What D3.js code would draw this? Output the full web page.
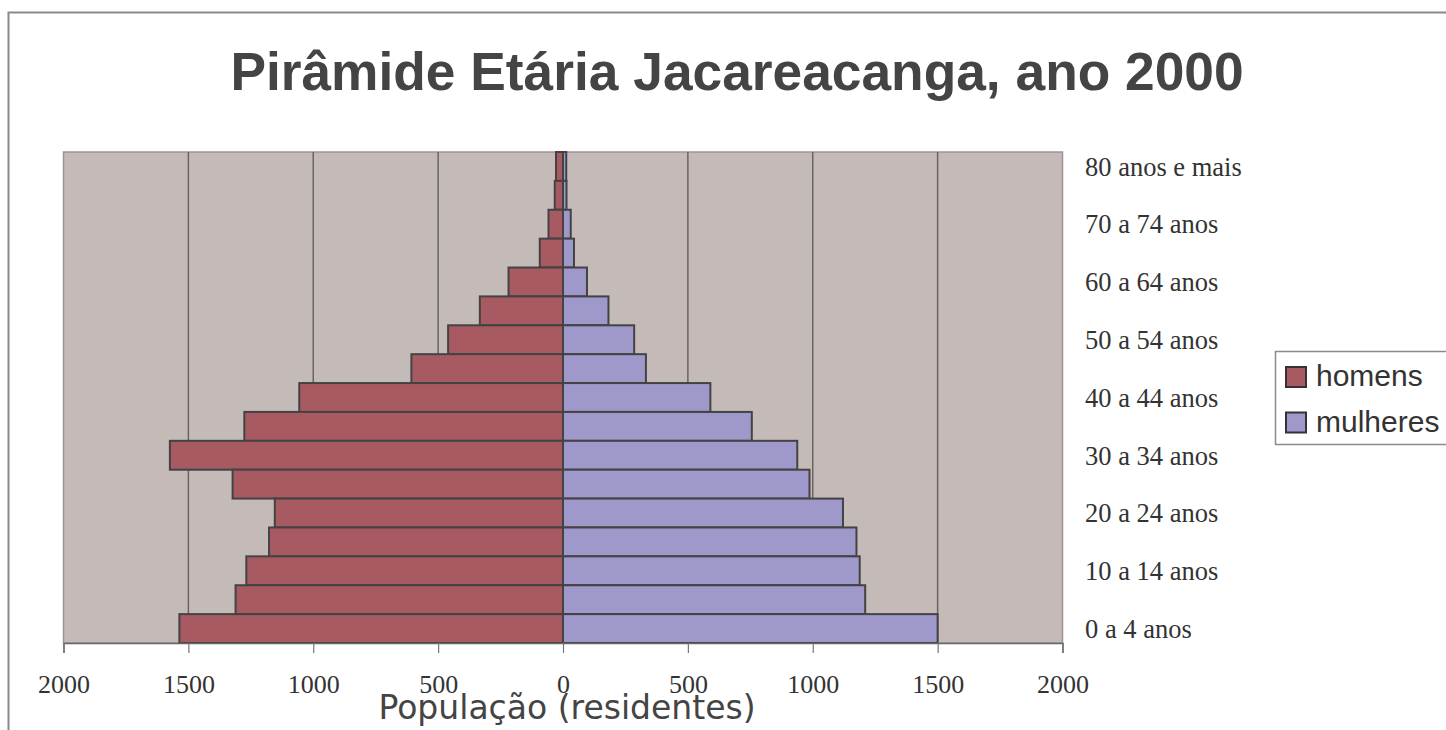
<!DOCTYPE html>
<html lang="pt">
<head>
    <meta charset="UTF-8">
    <title>Pirâmide Etária Jacareacanga</title>
    <script src="https://d3js.org/d3.v7.min.js"></script>
    <style>
        body { margin: 0; background: #fff; }
    </style>
</head>
<body>
<div id="chart"></div>
<script>
    // age groups, top to bottom
    let ages = ['80 anos e mais', '75 a 79 anos', '70 a 74 anos', '65 a 69 anos', '60 a 64 anos',
        '55 a 59 anos', '50 a 54 anos', '45 a 49 anos', '40 a 44 anos', '35 a 39 anos',
        '30 a 34 anos', '25 a 29 anos', '20 a 24 anos', '15 a 19 anos', '10 a 14 anos',
        '5 a 9 anos', '0 a 4 anos'];
    let homens = [28, 33, 58, 93, 218, 333, 460, 607, 1056, 1276, 1574, 1323, 1154, 1177, 1268, 1311, 1536];
    let mulheres = [13, 14, 31, 44, 96, 182, 285, 332, 590, 756, 938, 987, 1121, 1175, 1188, 1210, 1500];
    let xTicks = [-2000, -1500, -1000, -500, 0, 500, 1000, 1500, 2000];
    let gridTicks = [-1500, -1000, -500, 500, 1000, 1500];
    let series = ['homens', 'mulheres'];

    let W = 1446, H = 730;
    let plotLeft = 63.5, plotRight = 1062.5, plotTop = 152, plotBottom = 643;

    let svg = d3.select('#chart')
        .append('svg')
        .attr('width', W)
        .attr('height', H);

    // outer frame
    svg.append('rect')
        .attr('x', 8.5).attr('y', 12.5)
        .attr('width', 1500).attr('height', 800)
        .attr('fill', 'none')
        .attr('stroke', '#8a8a8a')
        .attr('stroke-width', 2);

    svg.append('text')
        .attr('x', 737).attr('y', 90)
        .attr('text-anchor', 'middle')
        .style('font-family', '"Liberation Sans", Arial, sans-serif')
        .style('font-weight', 'bold')
        .style('font-size', '53.3px')
        .attr('fill', '#444')
        .text('Pirâmide Etária Jacareacanga, ano 2000');

    let x = d3.scaleLinear().domain([-2000, 2000]).range([plotLeft, plotRight]);
    let y = d3.scaleBand().domain(ages).range([plotTop, plotBottom]).padding(0);
    let color = d3.scaleOrdinal().domain(series).range(['#a85a63', '#9e98cb']);

    // plot background
    svg.append('rect')
        .attr('x', plotLeft).attr('y', plotTop)
        .attr('width', plotRight - plotLeft).attr('height', plotBottom - plotTop)
        .attr('fill', '#c4bab8')
        .attr('stroke', '#9c9494')
        .attr('stroke-width', 1.5);

    // gridlines
    svg.append('g')
        .selectAll('line')
        .data(gridTicks)
        .enter()
        .append('line')
        .attr('x1', d => x(d)).attr('x2', d => x(d))
        .attr('y1', plotTop).attr('y2', plotBottom)
        .attr('stroke', '#6a6464')
        .attr('stroke-width', 1.5);

    // bars
    let rows = ages.map((a, i) => ({age: a, h: homens[i], m: mulheres[i]}));
    let bars = svg.append('g');
    bars.selectAll('.h')
        .data(rows)
        .enter().append('rect')
        .attr('class', 'h')
        .attr('x', d => x(-d.h))
        .attr('y', d => y(d.age))
        .attr('width', d => x(0) - x(-d.h))
        .attr('height', y.bandwidth())
        .attr('fill', color('homens'))
        .attr('stroke', '#434343')
        .attr('stroke-width', 2);
    bars.selectAll('.m')
        .data(rows)
        .enter().append('rect')
        .attr('class', 'm')
        .attr('x', x(0))
        .attr('y', d => y(d.age))
        .attr('width', d => x(d.m) - x(0))
        .attr('height', y.bandwidth())
        .attr('fill', color('mulheres'))
        .attr('stroke', '#434343')
        .attr('stroke-width', 2);

    // x axis
    let xAxis = svg.append('g')
        .attr('transform', 'translate(0,' + plotBottom + ')')
        .call(d3.axisBottom(x).tickValues(xTicks).tickSize(10).tickPadding(22)
            .tickFormat(d => Math.abs(d)));
    xAxis.select('.domain').attr('stroke', '#666').attr('stroke-width', 1.5);
    xAxis.selectAll('.tick line').attr('stroke', '#777').attr('stroke-width', 1.2);
    xAxis.selectAll('.tick text')
        .style('font-family', '"Liberation Serif", "Times New Roman", serif')
        .style('font-size', '26px')
        .attr('fill', '#333');

    // age labels, every other row
    svg.append('g')
        .selectAll('text')
        .data(ages.filter((a, i) => i % 2 === 0))
        .enter().append('text')
        .attr('x', 1085)
        .attr('y', d => y(d) + y.bandwidth() / 2)
        .attr('dy', '0.35em')
        .style('font-family', '"Liberation Serif", "Times New Roman", serif')
        .style('font-size', '26.5px')
        .attr('fill', '#333')
        .text(d => d);

    svg.append('text')
        .attr('x', 567).attr('y', 719)
        .attr('text-anchor', 'middle')
        .style('font-family', '"DejaVu Sans", Verdana, sans-serif')
        .style('font-size', '33px')
        .attr('fill', '#444')
        .text('População (residentes)');

    // legend
    let legend = svg.append('g');
    legend.append('rect')
        .attr('x', 1275.5).attr('y', 351.5)
        .attr('width', 200).attr('height', 93)
        .attr('fill', '#fff')
        .attr('stroke', '#8a8a8a')
        .attr('stroke-width', 1.5);
    series.forEach(function (s, i) {
        legend.append('rect')
            .attr('x', 1286).attr('y', 367 + i * 45.5)
            .attr('width', 20).attr('height', 20)
            .attr('fill', color(s))
            .attr('stroke', '#333')
            .attr('stroke-width', 2);
        legend.append('text')
            .attr('x', 1316).attr('y', 386 + i * 45.5)
            .style('font-family', '"Liberation Sans", Arial, sans-serif')
            .style('font-size', '30px')
            .attr('fill', '#333')
            .text(s);
    });
</script>
</body>
</html>
